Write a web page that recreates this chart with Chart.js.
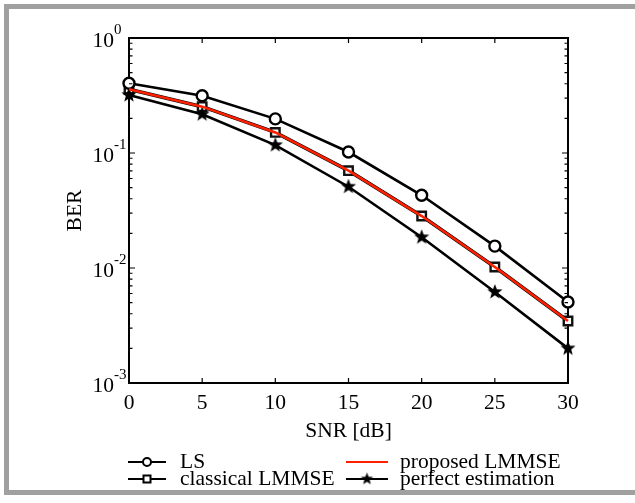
<!DOCTYPE html>
<html>
<head>
<meta charset="utf-8">
<title>BER vs SNR</title>
<script src="https://cdn.jsdelivr.net/npm/chart.js@4.4.0/dist/chart.umd.min.js"></script>
<style>
    body { margin: 0; background: #fff; }
    canvas { display: block; }
</style>
</head>
<body>
<canvas id="berChart" width="635" height="503"></canvas>
<script>
// Data
const snrDb = [0, 5, 10, 15, 20, 25, 30];
const berLs = [0.404, 0.315, 0.198, 0.102, 0.0429, 0.0155, 0.00506];
const berClassical = [0.358, 0.253, 0.151, 0.0702, 0.0283, 0.0102, 0.00346];
const berProposed = [0.358, 0.253, 0.151, 0.0702, 0.0283, 0.0102, 0.00346];
const berPerfect = [0.319, 0.217, 0.117, 0.0509, 0.0185, 0.00618, 0.0020];

const xTickValues = [0, 5, 10, 15, 20, 25, 30];
const yDecades = [0, -1, -2, -3];
const seriesNames = ['LS', 'classical LMMSE', 'proposed LMMSE', 'perfect estimation'];
const xTitle = 'SNR [dB]';
const yTitle = 'BER';

const FONT = '"Liberation Serif", "Times New Roman", serif';
const FS = 21.5;

// filled five point star used as marker
function makeStar(r) {
    const size = Math.ceil(r * 2 + 2);
    const c = document.createElement('canvas');
    c.width = size;
    c.height = size;
    const g = c.getContext('2d');
    g.fillStyle = '#000';
    g.beginPath();
    for (let i = 0; i < 10; i++) {
        const rad = i % 2 ? r * 0.42 : r;
        const a = -Math.PI / 2 + i * Math.PI / 5;
        const px = size / 2 + rad * Math.cos(a);
        const py = size / 2 + rad * Math.sin(a);
        if (i === 0) g.moveTo(px, py); else g.lineTo(px, py);
    }
    g.closePath();
    g.fill();
    return c;
}
const starMarker = makeStar(8);
const starSmall = makeStar(6.5);

function toPoints(values) {
    return snrDb.map((x, i) => ({ x: x, y: values[i] }));
}

// Draws the matlab-like box, ticks, labels, legend and the grey frame
const axesPlugin = {
    id: 'matlabAxes',
    beforeDatasetsDraw(chart) {
        const a = chart.chartArea;
        const ctx = chart.ctx;
        ctx.save();
        ctx.strokeStyle = '#000';
        ctx.lineWidth = 2;
        ctx.strokeRect(a.left, a.top, a.right - a.left, a.bottom - a.top);
        ctx.restore();
    },
    afterDraw(chart) {
        const a = chart.chartArea;
        const ctx = chart.ctx;
        const xs = chart.scales.x;
        const ys = chart.scales.y;
        ctx.save();
        ctx.strokeStyle = '#000';
        ctx.fillStyle = '#000';
        ctx.lineWidth = 1.2;

        // x ticks and labels
        ctx.font = FS + 'px ' + FONT;
        ctx.textAlign = 'center';
        ctx.textBaseline = 'middle';
        xTickValues.forEach(v => {
            const px = xs.getPixelForValue(v);
            ctx.beginPath();
            ctx.moveTo(px, a.bottom);
            ctx.lineTo(px, a.bottom - 5);
            ctx.moveTo(px, a.top);
            ctx.lineTo(px, a.top + 5);
            ctx.stroke();
            ctx.fillText(String(v), px, a.bottom + 20);
        });

        // y ticks, minor ticks and labels
        yDecades.forEach(d => {
            const py = ys.getPixelForValue(Math.pow(10, d));
            ctx.beginPath();
            ctx.moveTo(a.left, py);
            ctx.lineTo(a.left + 6, py);
            ctx.moveTo(a.right, py);
            ctx.lineTo(a.right - 6, py);
            ctx.stroke();
            if (d > -3) {
                for (let m = 2; m <= 9; m++) {
                    const my = ys.getPixelForValue(m * Math.pow(10, d - 1));
                    ctx.beginPath();
                    ctx.moveTo(a.left, my);
                    ctx.lineTo(a.left + 3.5, my);
                    ctx.moveTo(a.right, my);
                    ctx.lineTo(a.right - 3.5, my);
                    ctx.stroke();
                }
            }
            ctx.font = FS + 'px ' + FONT;
            ctx.textAlign = 'right';
            ctx.fillText('10', 114, py + 3);
            ctx.font = '15px ' + FONT;
            ctx.textAlign = 'left';
            ctx.fillText(d === 0 ? '0' : '-' + (-d), 114, py - 8);
        });

        // axis titles
        ctx.font = FS + 'px ' + FONT;
        ctx.textAlign = 'center';
        ctx.fillText(xTitle, (a.left + a.right) / 2, 431);
        ctx.save();
        ctx.translate(75, (a.top + a.bottom) / 2);
        ctx.rotate(-Math.PI / 2);
        ctx.fillText(yTitle, 0, 0);
        ctx.restore();

        // legend, two columns
        const ds = chart.data.datasets;
        const slots = [
            { i: 0, x0: 128, x1: 166, tx: 180, y: 462 },
            { i: 1, x0: 128, x1: 166, tx: 180, y: 479 },
            { i: 2, x0: 346, x1: 388, tx: 400, y: 462 },
            { i: 3, x0: 346, x1: 388, tx: 400, y: 479 }
        ];
        slots.forEach(s => {
            const d = ds[s.i];
            ctx.strokeStyle = d.borderColor;
            ctx.lineWidth = 2.2;
            ctx.beginPath();
            ctx.moveTo(s.x0, s.y);
            ctx.lineTo(s.x1, s.y);
            ctx.stroke();
            const mx = (s.x0 + s.x1) / 2;
            ctx.strokeStyle = '#000';
            ctx.fillStyle = '#fff';
            ctx.lineWidth = 2;
            if (d.pointStyle === 'circle') {
                ctx.beginPath();
                ctx.arc(mx, s.y, 4, 0, Math.PI * 2);
                ctx.fill();
                ctx.stroke();
            } else if (d.pointStyle === 'rect') {
                ctx.fillRect(mx - 3.5, s.y - 3.5, 7, 7);
                ctx.strokeRect(mx - 3.5, s.y - 3.5, 7, 7);
            } else if (d.pointStyle === starMarker) {
                ctx.drawImage(starSmall, mx - starSmall.width / 2, s.y - starSmall.height / 2);
            }
            ctx.fillStyle = '#000';
            ctx.font = FS + 'px ' + FONT;
            ctx.textAlign = 'left';
            ctx.textBaseline = 'middle';
            ctx.fillText(seriesNames[s.i], s.tx, s.y);
        });

        // grey figure frame (left, top, bottom)
        ctx.fillStyle = '#a0a0a0';
        ctx.fillRect(4, 4, 631, 5);
        ctx.fillRect(4, 4, 5, 491);
        ctx.fillRect(4, 490, 631, 5);
        ctx.restore();
    }
};

const ctx = document.getElementById('berChart').getContext('2d');
const berChart = new Chart(ctx, {
    type: 'line',
    data: {
        datasets: [
            {
                label: seriesNames[0],
                data: toPoints(berLs),
                borderColor: '#000',
                borderWidth: 2.6,
                pointStyle: 'circle',
                pointRadius: 5.5,
                pointBorderWidth: 2.4,
                pointBackgroundColor: '#fff',
                pointBorderColor: '#000',
                order: 2,
                clip: false
            },
            {
                label: seriesNames[1],
                data: toPoints(berClassical),
                borderColor: '#000',
                borderWidth: 3.6,
                pointStyle: 'rect',
                pointRadius: 6,
                pointBorderWidth: 2.4,
                pointBackgroundColor: '#fff',
                pointBorderColor: '#111',
                order: 3,
                clip: false
            },
            {
                label: seriesNames[2],
                data: toPoints(berProposed),
                borderColor: '#ff2000',
                borderWidth: 2.6,
                pointRadius: 0,
                order: 1,
                clip: false
            },
            {
                label: seriesNames[3],
                data: toPoints(berPerfect),
                borderColor: '#000',
                borderWidth: 2.6,
                pointStyle: starMarker,
                pointRadius: 8,
                order: 2,
                clip: false
            }
        ]
    },
    options: {
        responsive: false,
        animation: false,
        events: [],
        layout: {
            padding: { left: 129, top: 38, right: 67, bottom: 120 }
        },
        plugins: {
            legend: { display: false },
            tooltip: { enabled: false }
        },
        scales: {
            x: {
                type: 'linear',
                min: 0,
                max: 30,
                display: false
            },
            y: {
                type: 'logarithmic',
                min: 0.001,
                max: 1,
                display: false
            }
        }
    },
    plugins: [axesPlugin]
});
</script>
</body>
</html>
